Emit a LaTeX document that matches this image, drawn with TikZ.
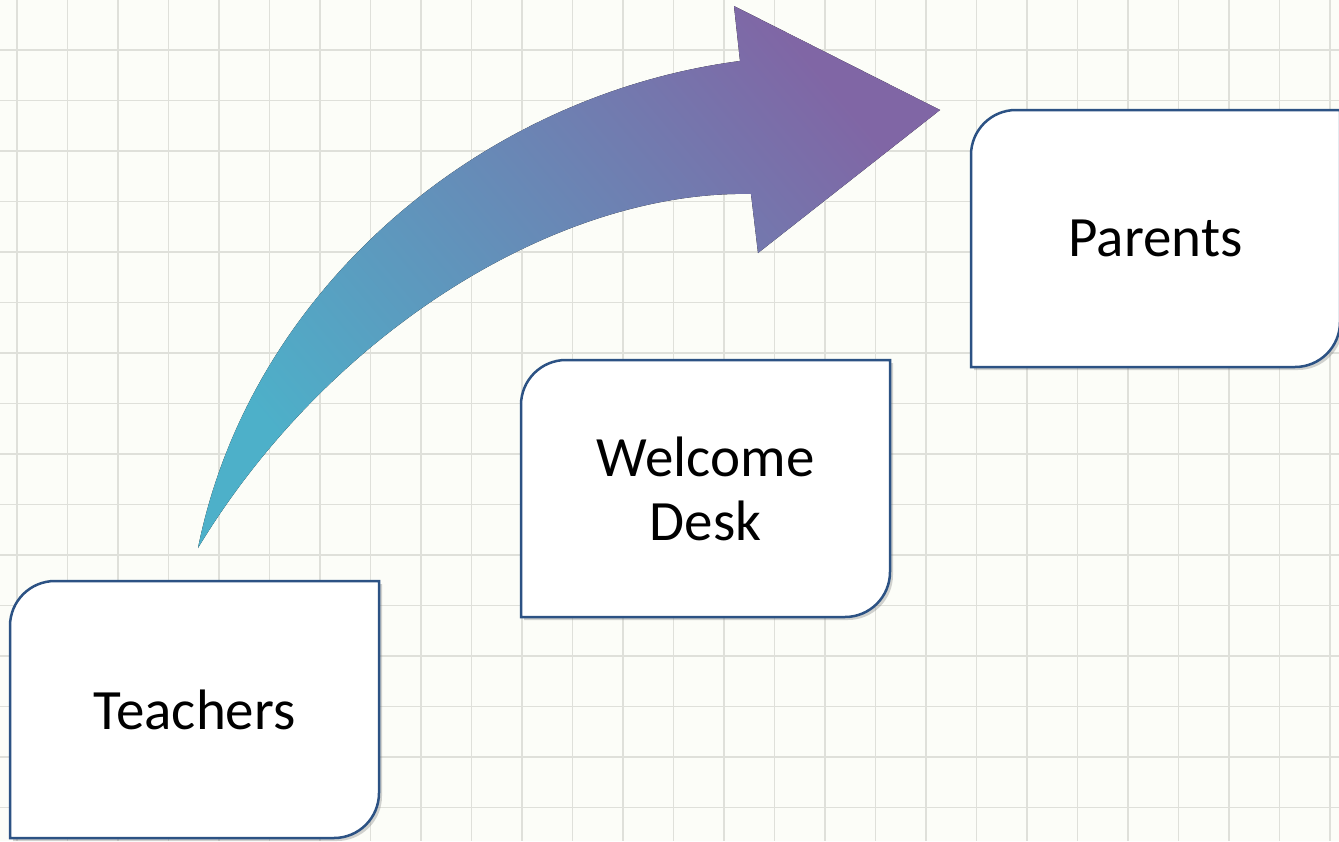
\documentclass[tikz,border=0pt]{standalone}
\usepackage{fontspec}
\setmainfont{Carlito}
\usetikzlibrary{backgrounds,shadows}

\definecolor{paper}{HTML}{FCFDF8}
\definecolor{gridgray}{HTML}{DFE0DA}
\definecolor{cardblue}{HTML}{2C5284}
\definecolor{arrowteal}{HTML}{4DB0C9}
\definecolor{arrowpurple}{HTML}{8066A5}

\begin{document}
\begin{tikzpicture}[x=1pt,y=-1pt,
    card/.style={minimum width=369pt, minimum height=257pt, inner sep=0pt, outer sep=0pt,
      align=center, font=\fontsize{57}{64}\selectfont},
    cardline/.style={draw=cardblue, line width=2.5pt, fill=white,
      drop shadow={shadow xshift=3pt, shadow yshift=-3pt, opacity=0.35}},
    gridline/.style={draw=gridgray, line width=1.3pt}]
    \useasboundingbox (0,0) rectangle (1339,841);

    \node[card] (teach) at (194.5,709.5) {Teachers};
    \node[card] (desk) at (705.5,488.5) {Welcome\\Desk};
    \node[card] (parent) at (1155.5,238.5) {Parents};

    \begin{scope}[on background layer]
      \fill[paper] (0,0) rectangle (1339,841);
      \foreach \i in {0,...,26}
        \draw[gridline] (17+50.5*\i,0) -- (17+50.5*\i,841);
      \foreach \j in {1,...,16}
        \draw[gridline] (0,50.5*\j-0.5) -- (1339,50.5*\j-0.5);
      % cards: round top left and bottom right
      \foreach \n in {teach,desk,parent}
        \draw[cardline] (\n.south west) -- ([yshift=-45pt]\n.north west)
          arc[start angle=180, end angle=90, radius=45pt] -- (\n.north east)
          -- ([yshift=45pt]\n.south east)
          arc[start angle=0, end angle=-90, radius=45pt] -- cycle;
    \end{scope}

    % curved arrow
    \coordinate (tail) at (198,548);
    \coordinate (top) at (740,61);
    \coordinate (barbtop) at (734,6);
    \coordinate (tip) at (940,110);
    \coordinate (barbbot) at (758,253);
    \coordinate (bot) at (751,194);
    \fill[bottom color=arrowteal, top color=arrowpurple, shading angle=-50]
      (tail) .. controls (250,290) and (480,95) .. (top) -- (barbtop) -- (tip)
      -- (barbbot) -- (bot) .. controls (560,190) and (330,330) .. (tail);
\end{tikzpicture}
\end{document}
